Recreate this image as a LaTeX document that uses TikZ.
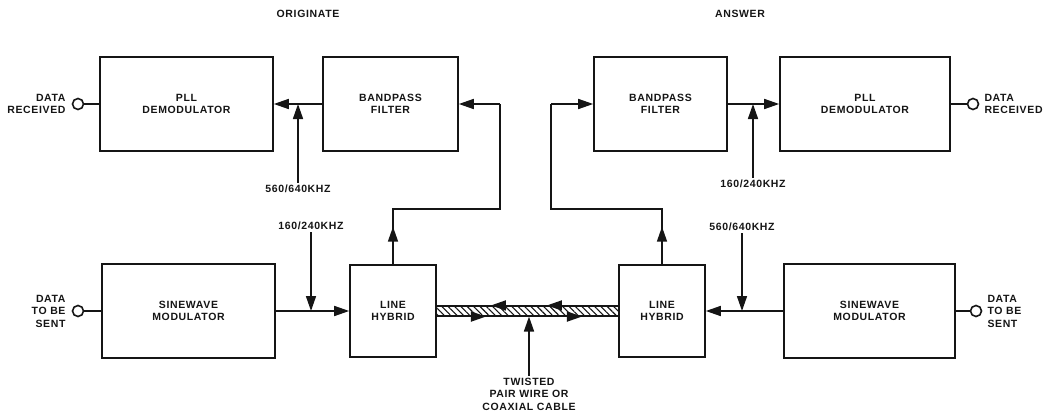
\documentclass[tikz,border=0pt]{standalone}
\usepackage{fontspec}
\setmainfont{Liberation Sans}[LetterSpace=6]
\usetikzlibrary{arrows.meta, positioning, calc, patterns.meta}
\definecolor{mdInk}{HTML}{151515}
\newcommand{\mdfont}{\fontsize{10.5}{12.5}\selectfont\bfseries}
\tikzset{
  block/.style={
    draw=mdInk, line width=1.6pt, fill=white, align=center,
    font=\mdfont, text=mdInk, inner sep=2pt
  },
  port/.style={circle, draw=mdInk, line width=1.6pt, fill=white,
               minimum size=11pt, inner sep=0pt},
  flow/.style={-{Triangle[length=15pt, width=10pt]}, line width=1.6pt, draw=mdInk},
  wire/.style={line width=1.6pt, draw=mdInk},
  tag/.style={font=\mdfont, text=mdInk, inner sep=2pt},
  cable/.style={draw=mdInk, line width=1.2pt, minimum width=184pt, minimum height=10pt,
                inner sep=0pt, pattern={Lines[angle=-45, distance=4.5pt, line width=1.1pt]},
                pattern color=mdInk},
}

\begin{document}
\begin{tikzpicture}[x=1pt, y=-1pt]
  \useasboundingbox (0,0) rectangle (1045,412);
  \node[tag] (org) at (308,14) {ORIGINATE};
  \node[tag] (ans) at (740,14) {ANSWER};

  % originate side
  \node[block, minimum width=173pt, minimum height=94pt] (demL) at (186.5,104) {PLL\\DEMODULATOR};
  \node[block, minimum width=135pt, minimum height=94pt] (bpfL) at (390.5,104) {BANDPASS\\FILTER};
  \node[block, minimum width=173pt, minimum height=94pt] (modL) at (188.5,311) {SINEWAVE\\MODULATOR};
  \node[block, minimum width=86pt, minimum height=92pt] (hybL) at (393,311) {LINE\\HYBRID};
  \node[port] (outL) at (78,104) {};
  \node[port] (inL) at (78,311) {};
  \node[tag, left=4pt of outL, align=right] (outLtag) {DATA\\RECEIVED};
  \node[tag, left=4pt of inL, align=right] (inLtag) {DATA\\TO BE\\SENT};
  \node[tag] (f56L) at (298,189) {560/640KHZ};
  \node[tag] (f16L) at (311,226) {160/240KHZ};

  % answer side
  \node[block, minimum width=133pt, minimum height=94pt] (bpfR) at (660.5,104) {BANDPASS\\FILTER};
  \node[block, minimum width=170pt, minimum height=94pt] (demR) at (865,104) {PLL\\DEMODULATOR};
  \node[block, minimum width=86pt, minimum height=92pt] (hybR) at (662,311) {LINE\\HYBRID};
  \node[block, minimum width=171pt, minimum height=94pt] (modR) at (869.5,311) {SINEWAVE\\MODULATOR};
  \node[port] (outR) at (973,104) {};
  \node[port] (inR) at (976,311) {};
  \node[tag, right=3pt of outR, align=left] (outRtag) {DATA\\RECEIVED};
  \node[tag, right=3pt of inR, align=left] (inRtag) {DATA\\TO BE\\SENT};
  \node[tag] (f16R) at (753,184) {160/240KHZ};
  \node[tag] (f56R) at (742,227) {560/640KHZ};

  % line between the hybrids
  \node[cable] (cable) at ($(hybL.east)!0.5!(hybR.west)$) {};
  \node[tag, align=center] (tp) at (529,394) {TWISTED\\PAIR WIRE OR\\COAXIAL CABLE};

  \coordinate (kL1) at (393,209);
  \coordinate (kL2) at (500,209);
  \coordinate (kR1) at (662,209);
  \coordinate (kR2) at (551,209);

  % receive paths
  \draw[wire] (outL) -- (demL.west);
  \draw[flow] (bpfL.west) -- (demL.east);
  \draw[flow] (f56L.north) -- (f56L.north |- demL.east);
  \draw[wire] (hybL.north) -- (kL1) -- (kL2) -- (kL2 |- bpfL.east);
  \draw[flow] (hybL.north) -- ($(hybL.north)!0.68!(kL1)$);
  \draw[flow] (kL2 |- bpfL.east) -- (bpfL.east);

  \draw[wire] (demR.east) -- (outR);
  \draw[flow] (bpfR.east) -- (demR.west);
  \draw[flow] (f16R.north) -- (f16R.north |- demR.west);
  \draw[wire] (hybR.north) -- (kR1) -- (kR2) -- (kR2 |- bpfR.west);
  \draw[flow] (hybR.north) -- ($(hybR.north)!0.68!(kR1)$);
  \draw[flow] (kR2 |- bpfR.west) -- (bpfR.west);

  % send paths
  \draw[wire] (inL) -- (modL.west);
  \draw[flow] (modL.east) -- (hybL.west);
  \draw[flow] (f16L.south) -- (f16L.south |- hybL.west);
  \draw[wire] (inR) -- (modR.east);
  \draw[flow] (modR.west) -- (hybR.east);
  \draw[flow] (f56R.south) -- (f56R.south |- hybR.east);

  % directions on the cable
  \foreach \a/\b in {72/56, 127/112}
    \draw[flow] ([xshift=\a pt]cable.north west) -- ([xshift=\b pt]cable.north west);
  \foreach \a/\b in {36/51, 132/147}
    \draw[flow] ([xshift=\a pt]cable.south west) -- ([xshift=\b pt]cable.south west);
  \draw[flow] (tp.north) -- (tp.north |- cable.south);
\end{tikzpicture}
\end{document}
